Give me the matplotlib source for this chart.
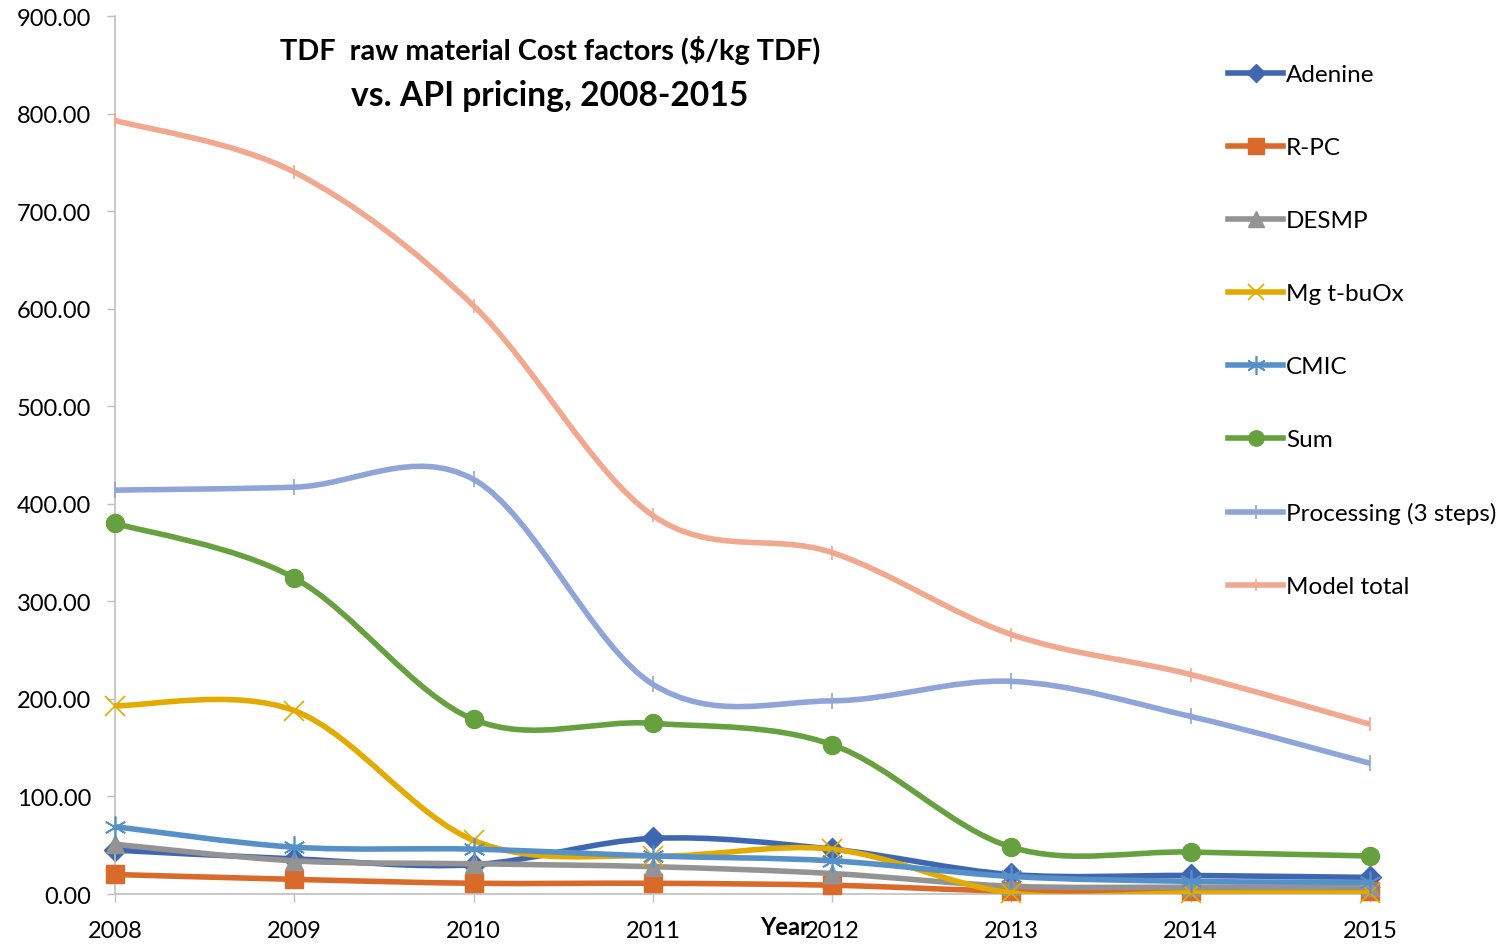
import numpy as np
import matplotlib.pyplot as plt
from matplotlib.path import Path
from matplotlib.patches import PathPatch
from matplotlib.lines import Line2D

plt.rcParams['font.family'] = ['Lato', 'DejaVu Sans']

# data
years = [2008, 2009, 2010, 2011, 2012, 2013, 2014, 2015]
adenine = [45, 36, 30, 57, 46, 20, 19, 17]
r_pc = [20, 15, 11, 11, 9, 3, 3, 3]
desmp = [51, 34, 31, 28, 21, 8, 7, 7]
mg_tbuox = [193, 188, 55, 39, 46, 1, 1, 1]
cmic = [69, 48, 46, 39, 34, 18, 13, 12]
sum_raw = [380, 324, 179, 175, 153, 48, 43, 39]
processing = [414, 417, 425, 215, 198, 218, 182, 134]
model_total = [793, 740, 603, 388, 350, 266, 225, 174]

series = [
    ("Adenine", adenine, "#3F67B1", "D", 11, 1),
    ("R-PC", r_pc, "#DA6A2A", "s", 13, 1),
    ("DESMP", desmp, "#939393", "^", 13, 1),
    ("Mg t-buOx", mg_tbuox, "#E3AA00", "x", 14, 1.2),
    ("CMIC", cmic, "#5690C8", (6, 2, 0), 16, 1.2),
    ("Sum", sum_raw, "#67A03F", "o", 13, 1),
    ("Processing (3 steps)", processing, "#8FA4D8", "|", 12, 1.2),
    ("Model total", model_total, "#F2A88E", "|", 10, 1.2),
]


def smooth_path(x, y):
    # excel-ish smoothed line: catmull-rom turned into cubic beziers
    pts = np.column_stack([x, y]).astype(float)
    n = len(pts)
    verts = [pts[0]]
    codes = [Path.MOVETO]
    for i in range(n - 1):
        p0 = pts[i - 1] if i > 0 else pts[i]
        p1 = pts[i]
        p2 = pts[i + 1]
        p3 = pts[i + 2] if i + 2 < n else pts[i + 1]
        c1 = p1 + (p2 - p0) / 6.0
        c2 = p2 - (p3 - p1) / 6.0
        verts += [c1, c2, p2]
        codes += [Path.CURVE4] * 3
    return Path(verts, codes)


fig = plt.figure(figsize=(15.09, 9.45), dpi=100)
ax = fig.add_axes([0.0762, 0.0529, 0.8317, 0.9291])

handles = []
for k, (name, vals, col, mk, ms, mew) in enumerate(series):
    ax.add_patch(PathPatch(smooth_path(years, vals), fill=False, edgecolor=col,
                           lw=4, zorder=2 + k, capstyle='round', joinstyle='round'))
    filled = mk not in ("x", "|") and not isinstance(mk, tuple)
    ax.plot(years, vals, linestyle='none', marker=mk, markersize=ms,
            markerfacecolor=col if filled else 'none', markeredgecolor=col,
            markeredgewidth=mew, zorder=2 + k + 0.5, clip_on=False)
    handles.append(Line2D([], [], color=col, lw=4, marker=mk,
                          markersize=ms * 0.85, markeredgewidth=mew,
                          markerfacecolor=col if filled else 'none',
                          markeredgecolor=col, label=name))

ax.set_xlim(2008, 2015)
ax.set_ylim(0, 900)
ax.set_xticks(years)
ax.set_yticks(np.arange(0, 901, 100))
ax.set_yticklabels(["%.2f" % v for v in np.arange(0, 901, 100)])
ax.tick_params(axis='both', labelsize=17, color='#BFBFBF', length=6, width=1)
ax.tick_params(axis='y', pad=11)
ax.tick_params(axis='x', pad=13)
for s in ['top', 'right']:
    ax.spines[s].set_visible(False)
for s in ['left', 'bottom']:
    ax.spines[s].set_color('#BFBFBF')
    ax.spines[s].set_linewidth(1.2)

fig.legend(handles=handles, loc='upper left', bbox_to_anchor=(0.8075, 0.9415),
           frameon=False, fontsize=17.5, labelspacing=2.14, handlelength=2.25,
           handletextpad=0.12, borderaxespad=0)

fig.text(0.3645, 0.947, "TDF  raw material Cost factors ($/kg TDF)",
         ha='center', va='center', fontsize=20.8, fontweight='bold')
fig.text(0.3645, 0.898, "vs. API pricing, 2008-2015",
         ha='center', va='center', fontsize=24.2, fontweight='bold')
fig.text(785 / 1509, 1 - 928 / 945, "Year", ha='center', va='center',
         fontsize=17, fontweight='bold')

fig.savefig("out.png", dpi=100)
